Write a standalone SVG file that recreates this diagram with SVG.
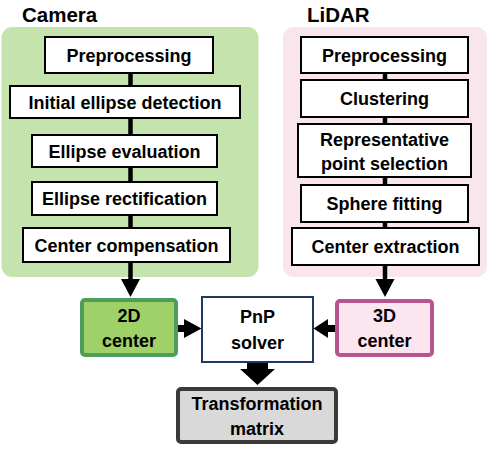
<svg xmlns="http://www.w3.org/2000/svg" width="493" height="451" viewBox="0 0 493 451">
<style>
text{font-family:"Liberation Sans",Arial,sans-serif;font-weight:bold;fill:#000;text-anchor:middle}
.t{font-size:18px}
.title{font-size:20.5px;text-anchor:start}
.box{fill:#fff;stroke:#000;stroke-width:2}
.con{stroke:#000;stroke-width:4.5;fill:none}
.ar{fill:#000}
</style>
<rect width="493" height="451" fill="#fff"/>
<g id="camera-panel">
<rect x="1.5" y="27" width="257" height="250" rx="11" fill="#c4e3ad"/>
<text class="title" x="22" y="22">Camera</text>
</g>
<g id="lidar-panel">
<rect x="283" y="27" width="204" height="250" rx="11" fill="#f9e5ee"/>
<text class="title" x="307" y="22">LiDAR</text>
</g>
<g id="connectors">
<line class="con" x1="130.5" y1="73" x2="130.5" y2="86"/>
<line class="con" x1="130.5" y1="118" x2="130.5" y2="135"/>
<line class="con" x1="130.5" y1="167" x2="130.5" y2="182"/>
<line class="con" x1="130.5" y1="215" x2="130.5" y2="228"/>
<line class="con" x1="130.5" y1="262" x2="130.5" y2="281"/>
<polygon class="ar" points="121,279 140,279 130.5,297"/>
<line class="con" x1="385" y1="73" x2="385" y2="80"/>
<line class="con" x1="385" y1="117" x2="385" y2="124"/>
<line class="con" x1="385" y1="177" x2="385" y2="185"/>
<line class="con" x1="385" y1="222" x2="385" y2="228"/>
<line class="con" x1="385" y1="265" x2="385" y2="281"/>
<polygon class="ar" points="375.5,279 394.5,279 385,297"/>
<line stroke="#000" stroke-width="7" x1="177" y1="328.5" x2="186" y2="328.5"/>
<polygon class="ar" points="184,319 184,338 201.5,328.5"/>
<line stroke="#000" stroke-width="7" x1="336" y1="328.5" x2="326" y2="328.5"/>
<polygon class="ar" points="328,319 328,338 313.5,328.5"/>
<polygon class="ar" points="247,362 268,362 268,369 275,369 257.5,385 240,369 247,369"/>
</g>
<g id="cam-preprocessing"><rect class="box" x="45" y="37" width="168" height="36"/><text class="t" x="129" y="61.5">Preprocessing</text></g>
<g id="cam-initial-ellipse"><rect class="box" x="10" y="86" width="230" height="32"/><text class="t" x="125" y="108.5">Initial ellipse detection</text></g>
<g id="cam-ellipse-eval"><rect class="box" x="32" y="135" width="185" height="32"/><text class="t" x="124.5" y="157.5">Ellipse evaluation</text></g>
<g id="cam-ellipse-rect"><rect class="box" x="32" y="182" width="185" height="33"/><text class="t" x="124.5" y="205">Ellipse rectification</text></g>
<g id="cam-center-comp"><rect class="box" x="23" y="228" width="207" height="34"/><text class="t" x="126.5" y="251.5">Center compensation</text></g>
<g id="lid-preprocessing"><rect class="box" x="301" y="37" width="167" height="36"/><text class="t" x="384.5" y="61.5">Preprocessing</text></g>
<g id="lid-clustering"><rect class="box" x="301" y="80" width="167" height="37"/><text class="t" x="384.5" y="105">Clustering</text></g>
<g id="lid-representative"><rect class="box" x="298" y="124" width="173" height="53"/><text class="t" x="384.5" y="145.5">Representative</text><text class="t" x="384.5" y="169.5">point selection</text></g>
<g id="lid-sphere"><rect class="box" x="301" y="185" width="167" height="37"/><text class="t" x="384.5" y="210">Sphere fitting</text></g>
<g id="lid-center-extraction"><rect class="box" x="292" y="228" width="187" height="37"/><text class="t" x="385.5" y="253">Center extraction</text></g>
<g id="center-2d"><rect x="82" y="300" width="94" height="55" rx="3" fill="#a0d068" stroke="#4f9d5c" stroke-width="4"/><text class="t" x="129" y="322">2D</text><text class="t" x="129" y="347">center</text></g>
<g id="pnp-solver"><rect x="202" y="297" width="111" height="65" fill="#fff" stroke="#1f3a60" stroke-width="2"/><text class="t" x="257.5" y="323">PnP</text><text class="t" x="257.5" y="349">solver</text></g>
<g id="center-3d"><rect x="337" y="301" width="95" height="54" rx="3" fill="#fbe5ef" stroke="#b65391" stroke-width="4"/><text class="t" x="384.5" y="322">3D</text><text class="t" x="384.5" y="347">center</text></g>
<g id="transformation"><rect x="178" y="389" width="158" height="53" rx="3" fill="#d9d9d9" stroke="#3a3a3a" stroke-width="4"/><text class="t" x="257" y="410">Transformation</text><text class="t" x="257" y="435">matrix</text></g>
</svg>
